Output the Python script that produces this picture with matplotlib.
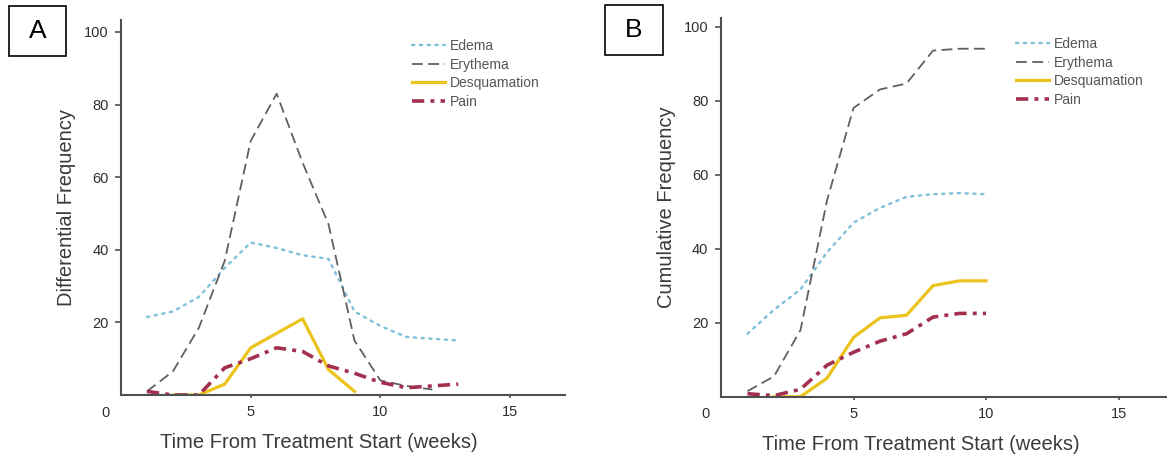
import numpy as np
import matplotlib
matplotlib.use('Agg')
import matplotlib.pyplot as plt
from matplotlib.patches import Rectangle
from matplotlib.transforms import offset_copy

plt.rcParams['font.family'] = ['Liberation Sans', 'DejaVu Sans']

# differential frequency per week (panel A)
weeks_a = [1, 2, 3, 4, 5, 6, 7, 8, 9, 10, 11, 12, 13]
edema_a = [21.5, 23, 27, 35, 42, 40.5, 38.5, 37.5, 23, 19, 16, 15.5, 15]
eryth_weeks_a = [1, 2, 3, 4, 5, 6, 7, 8, 9, 10, 11, 12]
erythema_a = [1, 6.5, 18.5, 37, 70, 83, 64, 47, 15, 4, 2.5, 1.5]
desq_weeks_a = [2, 3, 4, 5, 6, 7, 8, 9]
desquamation_a = [0, 0, 3, 13, 17, 21, 7, 1]
pain_a = [1, 0, 0, 7.5, 10, 13, 12, 8, 6, 3.5, 2, 2.5, 3]

# cumulative frequency per week (panel B)
weeks_b = [1, 2, 3, 4, 5, 6, 7, 8, 9, 10]
edema_b = [17, 23.5, 29, 39, 47, 51, 54, 54.7, 55, 54.7]
erythema_b = [1.5, 5.5, 18, 53, 78, 83, 84.6, 93.5, 94, 94]
desq_weeks_b = [2, 3, 4, 5, 6, 7, 8, 9, 10]
desquamation_b = [0, 0, 5, 16, 21.3, 22, 30, 31.3, 31.3]
pain_b = [0.8, 0.3, 2, 8.5, 12, 15, 17, 21.5, 22.5, 22.5]

labels = ['Edema', 'Erythema', 'Desquamation', 'Pain']
yticks = [20, 40, 60, 80, 100]
xticks = [5, 10, 15]

W, H = 1167, 461
fig = plt.figure(figsize=(W / 100, H / 100), dpi=100)


def px_axes(left, right, top, bottom):
    """Axes rect from pixel edges (top-origin)."""
    return [left / W, 1 - bottom / H, (right - left) / W, (bottom - top) / H]


def draw_panel(ax, data, ylabel, xmax, ymax, leg_xy):
    (wk, ed), (wk_er, er), (wk_de, de), (wk_pa, pa) = data
    ax.plot(wk, ed, color='#7cc0da', lw=1.7, linestyle=(0, (1, 2.3)),
            dash_capstyle='round', label=labels[0])
    ax.plot(wk_er, er, color='#606060', lw=1.3, linestyle=(0, (6, 3)),
            label=labels[1])
    ax.plot(wk_de, de, color='#ecc31c', lw=2.3, label=labels[2])
    ax.plot(wk_pa, pa, color='#a3304f', lw=2.6, linestyle=(0, (3.4, 1.7, 1.1, 1.7)),
            label=labels[3])

    ax.set_xlim(0, xmax)
    ax.set_ylim(0, ymax)
    ax.set_xticks(xticks)
    ax.set_yticks(yticks)
    for side in ['top', 'right']:
        ax.spines[side].set_visible(False)
    for side in ['left', 'bottom']:
        ax.spines[side].set_color('#505050')
        ax.spines[side].set_linewidth(1.5)
    ax.tick_params(axis='y', length=4, width=1.2, color='#505050', pad=5,
                   labelsize=10.5, labelcolor='#2e2e2e')
    ax.tick_params(axis='x', length=2.5, width=1.2, color='#505050', pad=5,
                   labelsize=10.5, labelcolor='#2e2e2e')
    ax.set_xlabel('Time From Treatment Start (weeks)', fontsize=14.5,
                  color='#3a3a3a')
    ax.xaxis.set_label_coords(0.447, -0.1)
    ax.set_ylabel(ylabel, fontsize=14.5, color='#3a3a3a', labelpad=5.5)

    # shared origin label
    origin = offset_copy(ax.transData, fig=fig, x=-16, y=-17.5, units='dots')
    ax.text(0, 0, '0', transform=origin, ha='center', va='center',
            fontsize=10.5, color='#2e2e2e')

    ax.legend(loc='upper left', bbox_to_anchor=(leg_xy[0] / W, 1 - leg_xy[1] / H),
              bbox_transform=fig.transFigure, frameon=False, fontsize=10,
              labelcolor='#555555', handlelength=2.4, handletextpad=0.3,
              labelspacing=0.33, borderpad=0, borderaxespad=0)


ax_a = fig.add_axes(px_axes(121, 564.6, 20, 395))
draw_panel(ax_a,
           [(weeks_a, edema_a), (eryth_weeks_a, erythema_a),
            (desq_weeks_a, desquamation_a), (weeks_a, pain_a)],
           'Differential Frequency', 17.1, 103.3, (412, 39))

ax_b = fig.add_axes(px_axes(721, 1167, 18, 396.7))
draw_panel(ax_b,
           [(weeks_b, edema_b), (weeks_b, erythema_b),
            (desq_weeks_b, desquamation_b), (weeks_b, pain_b)],
           'Cumulative Frequency', 16.83, 102.3, (1016, 37))

# panel letters in boxes
for letter, (x0, x1, y0, y1) in [('A', (9, 66, 6, 56)), ('B', (605, 663, 5, 55))]:
    fig.patches.append(Rectangle((x0 / W, 1 - y1 / H), (x1 - x0) / W, (y1 - y0) / H,
                                 transform=fig.transFigure, fill=False,
                                 edgecolor='black', linewidth=1.2))
    fig.text((x0 + x1) / 2 / W, 1 - (y0 + y1) / 2 / H, letter, ha='center',
             va='center', fontsize=19, color='black')

fig.savefig('out.png', dpi=100, facecolor='white')
